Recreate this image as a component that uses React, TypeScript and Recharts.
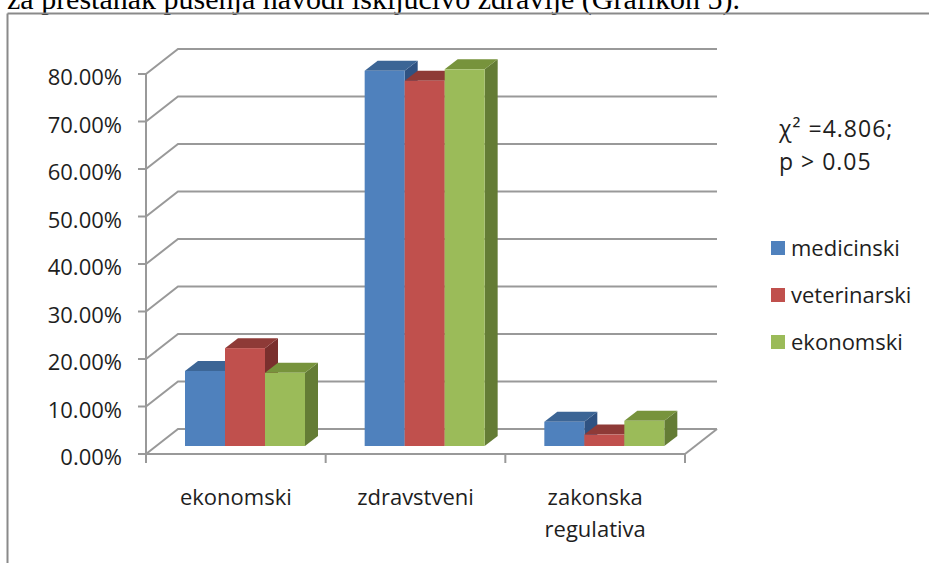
import React from 'react';
import { BarChart, Bar, XAxis, YAxis, CartesianGrid } from 'recharts';

const categories = ['ekonomski', 'zdravstveni', 'zakonska regulativa'];
const seriesNames = ['medicinski', 'veterinarski', 'ekonomski'];
const medicinski = [15.8, 79.0, 5.1];
const veterinarski = [20.6, 76.9, 2.4];
const ekonomski = [15.4, 79.3, 5.3];
const yTicks = [0, 10, 20, 30, 40, 50, 60, 70, 80];

const W = 929;
const H = 563;
const margin = { top: 74, right: 244, bottom: 49, left: 46 };
const Y_AXIS_W = 100;
const X_AXIS_H = 60;
const PLOT_LEFT = margin.left + Y_AXIS_W;
const PLOT_RIGHT = W - margin.right;
const PLOT_BOTTOM = H - margin.bottom - X_AXIS_H;
const BAND = (PLOT_RIGHT - PLOT_LEFT) / categories.length;

// 3d offsets: back wall, bar plane, bar depth
const WALL = { dx: 32, dy: 25 };
const BAR_SHIFT = { dx: 9, dy: 8 };
const BAR_DEPTH = { dx: 13, dy: 10 };

const GRID = '#999999';
const TEXT = '#1e1e1e';
const FONT = '"Open Sans", sans-serif';

const palette = [
  { front: '#4F81BD', top: '#3C6595', side: '#2F5282' },
  { front: '#C0504D', top: '#8E3A37', side: '#7A2F2D' },
  { front: '#9BBB59', top: '#77933C', side: '#647C35' },
];

const data = categories.map((name, i) => ({
  name,
  medicinski: medicinski[i],
  veterinarski: veterinarski[i],
  ekonomski: ekonomski[i],
}));

const box = (c: { front: string; top: string; side: string }) => (props: any) => {
  const { x, y, width, height } = props;
  if (width == null || height == null) return <g />;
  const fx = x + BAR_SHIFT.dx;
  const fy = y - BAR_SHIFT.dy;
  const { dx, dy } = BAR_DEPTH;
  return (
    <g>
      <polygon
        points={`${fx + width},${fy} ${fx + width + dx},${fy - dy} ${fx + width + dx},${fy + height - dy} ${fx + width},${fy + height}`}
        fill={c.side}
      />
      <polygon
        points={`${fx},${fy} ${fx + dx},${fy - dy} ${fx + width + dx},${fy - dy} ${fx + width},${fy}`}
        fill={c.top}
      />
      <rect x={fx} y={fy} width={width} height={height} fill={c.front} />
    </g>
  );
};

const gridLine = (p: any) => {
  const { x1, y1, x2 } = p;
  const isFloor = Math.abs(y1 - PLOT_BOTTOM) < 1;
  return (
    <g key={`grid-${y1}`}>
      <polyline
        points={`${x1},${y1} ${x1 + WALL.dx},${y1 - WALL.dy} ${x2 + WALL.dx},${y1 - WALL.dy}`}
        fill="none"
        stroke={GRID}
        strokeWidth={2}
      />
      {isFloor && (
        <line x1={x2} y1={y1} x2={x2 + WALL.dx} y2={y1 - WALL.dy} stroke={GRID} strokeWidth={2} />
      )}
    </g>
  );
};

const XTick = (p: any) => {
  const { x, y, payload, index } = p;
  const lines = String(payload.value).split(' ');
  const left = x - BAND / 2;
  const right = x + BAND / 2;
  return (
    <g>
      <line x1={left} y1={y} x2={left} y2={y + 9} stroke={GRID} strokeWidth={2} />
      {index === categories.length - 1 && (
        <line x1={right} y1={y} x2={right} y2={y + 9} stroke={GRID} strokeWidth={2} />
      )}
      <text x={x} y={y + 51} textAnchor="middle" fill={TEXT} fontSize={22} fontFamily={FONT}>
        {lines.map((l, i) => (
          <tspan key={i} x={x} dy={i === 0 ? 0 : 32}>
            {l}
          </tspan>
        ))}
      </text>
    </g>
  );
};

const YTick = (p: any) => (
  <text x={p.x} y={p.y + 11} textAnchor="end" fill={TEXT} fontSize={22} fontFamily={FONT}>
    {`${Number(p.payload.value).toFixed(2)}%`}
  </text>
);

export default function App() {
  return (
    <div style={{ position: 'absolute', left: 0, top: 0, width: W, height: H, overflow: 'hidden', background: '#fff' }}>
      <svg width={W} height={H} style={{ position: 'absolute', left: 0, top: 0 }}>
        <text x={7} y={9} fontSize={30} fontFamily='"Liberation Serif", serif' fill="#000">
          za prestanak pušenja navodi isključivo zdravlje (Grafikon 5).
        </text>
        <line x1={7.5} y1={13.5} x2={W} y2={13.5} stroke="#8a8a8a" strokeWidth={2} />
        <line x1={7.5} y1={13.5} x2={7.5} y2={H} stroke="#8a8a8a" strokeWidth={2} />
        <text x={779} y={137} fontSize={23} letterSpacing={1} fontFamily={FONT} fill={TEXT}>
          χ² =4.806;
        </text>
        <text x={779} y={170} fontSize={23} letterSpacing={1} fontFamily={FONT} fill={TEXT}>
          p &gt; 0.05
        </text>
      </svg>
      <div style={{ position: 'absolute', left: 0, top: 0 }}>
        <BarChart width={W} height={H} data={data} margin={margin} barCategoryGap={30} barGap={0}>
          <CartesianGrid horizontal={gridLine} vertical={false} />
          <XAxis
            dataKey="name"
            height={X_AXIS_H}
            interval={0}
            tickLine={false}
            tickSize={0}
            tickMargin={0}
            axisLine={{ stroke: GRID, strokeWidth: 2 }}
            tick={<XTick />}
          />
          <YAxis
            width={Y_AXIS_W}
            domain={[0, 80]}
            ticks={yTicks}
            interval={0}
            tickSize={8}
            tickMargin={16}
            tickLine={{ stroke: GRID, strokeWidth: 2 }}
            axisLine={{ stroke: GRID, strokeWidth: 2 }}
            tick={<YTick />}
          />
          {seriesNames.map((s, i) => (
            <Bar key={s} dataKey={s} fill={palette[i].front} shape={box(palette[i])} isAnimationActive={false} />
          ))}
        </BarChart>
      </div>
      <div style={{ position: 'absolute', left: 771, top: 224 }}>
        {seriesNames.map((s, i) => (
          <div key={s} style={{ height: 47, display: 'flex', alignItems: 'center' }}>
            <span style={{ width: 14, height: 14, background: palette[i].front, marginRight: 6, display: 'inline-block' }} />
            <span style={{ fontSize: 22, fontFamily: FONT, color: TEXT, lineHeight: '47px' }}>{s}</span>
          </div>
        ))}
      </div>
    </div>
  );
}
